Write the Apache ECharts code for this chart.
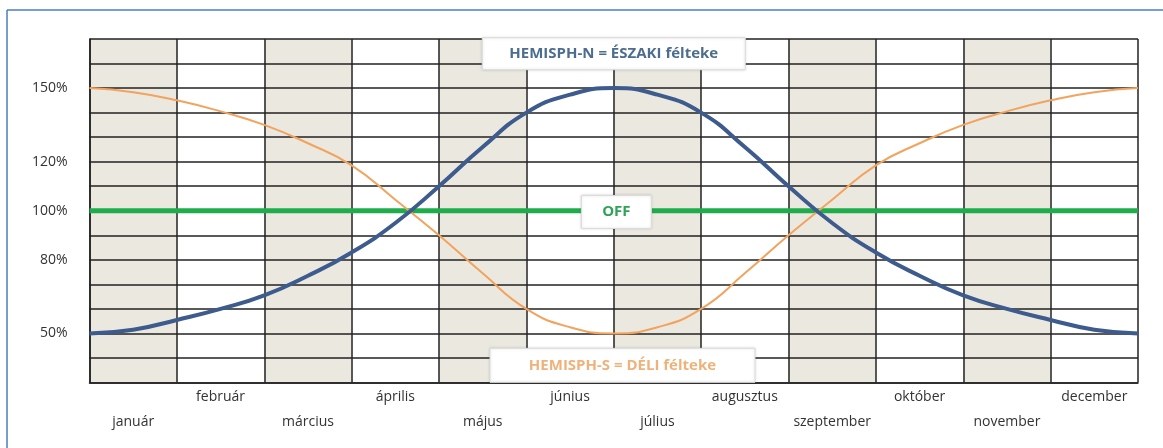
<!DOCTYPE html>
<html>
<head>
<meta charset="utf-8">
<script src="https://cdn.jsdelivr.net/npm/echarts@6/dist/echarts.min.js"></script>
<style>html,body{margin:0;padding:0;background:#fff;overflow:hidden;}#c{width:1163px;height:448px;}</style>
</head>
<body>
<div id="c"></div>
<script>
const months = ['január','február','március','április','május','június','július','augusztus','szeptember','október','november','december'];
const xPositions = [0,0.5,1,1.5,2,2.5,3,3.5,4,4.5,5,5.5,6,6.5,7,7.5,8,8.5,9,9.5,10,10.5,11,11.5,12];
const northValues = [50,51.5,55.5,60,65.5,73.5,83,95,110,126,140,147.3,150,147.3,140,126,110,95,83,73.5,65.5,60,55.5,51.5,50];
const southValues = [150,148.3,145,140.5,135,127.5,118.5,104.5,90,74.5,60,52.5,50,52.5,60,74.5,90,104.5,118.5,127.5,135,140.5,145,148.3,150];
const offValues = [100,100];
const offX = [0,12];
const yTickLabels = [50,80,100,120,150];
const annotations = [
  {text:'HEMISPH-N = ÉSZAKI félteke', x:6, y:164, color:'#4d6d8f', w:263, h:32},
  {text:'OFF', x:6.03, y:99.5, color:'#2ea457', w:70, h:33},
  {text:'HEMISPH-S = DÉLI félteke', x:6.1, y:37, color:'#efb27a', w:265, h:34}
];

const chart = echarts.init(document.getElementById('c'));
const font = '"Open Sans", "Liberation Sans", sans-serif';
chart.setOption({
  animation:false,
  grid:{left:89.5, right:25, top:39, bottom:65.5, containLabel:false},
  xAxis:[{
    type:'value', min:0, max:12, interval:1, z:0,
    axisLine:{show:true, lineStyle:{color:'#222', width:1.5}},
    axisTick:{show:false}, axisLabel:{show:false},
    splitLine:{show:true, lineStyle:{color:'#222', width:1.5}},
    splitArea:{show:true, areaStyle:{color:['#ebe8e0','#ffffff']}}
  },{
    type:'category', data:months, position:'bottom', boundaryGap:true,
    axisLine:{show:false}, axisTick:{show:false},
    axisLabel:{
      interval:0, margin:2, color:'#333', fontSize:14, fontFamily:font, lineHeight:25,
      formatter:(v,i)=> i%2===0 ? '\n'+v : v
    }
  }],
  yAxis:{
    type:'value', min:30, max:170, interval:10, z:1,
    axisLine:{show:true, lineStyle:{color:'#222', width:1.5}},
    axisTick:{show:false},
    axisLabel:{margin:22, color:'#333', fontSize:14, fontFamily:font,
      formatter:v=> yTickLabels.indexOf(v)>=0 ? v+'%' : ''},
    splitLine:{show:true, lineStyle:{color:'#222', width:1.5}}
  },
  series:[
    {type:'line', xAxisIndex:0, data:offX.map((x,i)=>[x,offValues[i]]), symbol:'none',
      lineStyle:{color:'#1fad4c', width:5}, z:3},
    {type:'line', xAxisIndex:0, data:xPositions.map((x,i)=>[x,southValues[i]]), symbol:'none', smooth:0.5,
      lineStyle:{color:'#f2a35e', width:2}, z:4},
    {type:'line', xAxisIndex:0, data:xPositions.map((x,i)=>[x,northValues[i]]), symbol:'none', smooth:0.5,
      lineStyle:{color:'#3d5b8c', width:4}, z:5}
  ]
});

const g = [
  {type:'line', shape:{x1:7, y1:10, x2:1163, y2:10}, style:{stroke:'#4a7cc4', lineWidth:1.5}, z:100},
  {type:'line', shape:{x1:7, y1:10, x2:7, y2:448}, style:{stroke:'#4a7cc4', lineWidth:1.5}, z:100}
];
annotations.forEach(a=>{
  const p = chart.convertToPixel({xAxisIndex:0, yAxisIndex:0}, [a.x, a.y]);
  g.push({type:'rect', z:50, shape:{x:p[0]-a.w/2, y:p[1]-a.h/2, width:a.w, height:a.h},
    style:{fill:'#ffffff', stroke:'#dcdcdc', lineWidth:1, shadowBlur:3, shadowColor:'rgba(0,0,0,0.15)'}});
  g.push({type:'text', z:51, x:p[0], y:p[1], style:{text:a.text, x:0, y:0, align:'center', verticalAlign:'middle',
    fill:a.color, font:'bold 15px '+font}});
});
chart.setOption({graphic:g});
</script>
</body>
</html>
